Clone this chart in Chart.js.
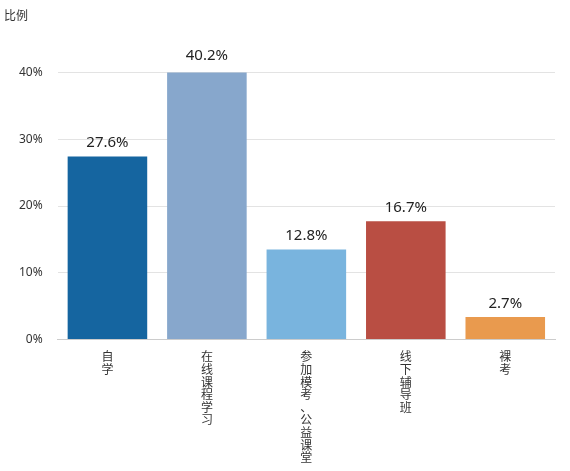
<!DOCTYPE html>
<html>
<head>
<meta charset="utf-8">
<script src="https://cdn.jsdelivr.net/npm/chart.js@4/dist/chart.umd.min.js"></script>
<style>
  html, body { margin: 0; padding: 0; background: #fff; }
  #wrap { width: 570px; height: 471px; position: relative; }
</style>
</head>
<body>
<div id="wrap"><canvas id="c"></canvas></div>
<script>
// =============================================================================
// DATA
// =============================================================================
const categories = ["自学", "在线课程学习", "参加模考、公益课堂", "线下辅导班", "裸考"];
const barValues = [27.4, 40.4, 13.5, 17.7, 3.4];
const valueLabels = ["27.6%", "40.2%", "12.8%", "16.7%", "2.7%"];
const barColors = ["#1565a0", "#87a7cc", "#79b4de", "#b94e43", "#e99a4e"];
const yTicks = [0, 10, 20, 30, 40];

// =============================================================================
// PLUGIN — labels above bars
// =============================================================================
const topLabels = {
  id: "topLabels",
  afterDatasetsDraw(chart) {
    const ctx = chart.ctx;
    const meta = chart.getDatasetMeta(0);
    ctx.save();
    ctx.font = "15px 'Noto Sans', sans-serif";
    ctx.fillStyle = "#222";
    ctx.textAlign = "center";
    ctx.textBaseline = "bottom";
    meta.data.forEach((bar, i) => {
      ctx.fillText(valueLabels[i], bar.x, bar.y - 6);
    });
    ctx.restore();
  }
};

new Chart(document.getElementById("c").getContext("2d"), {
  type: "bar",
  data: {
    labels: categories.map(s => s.split("")),
    datasets: [{
      data: barValues,
      backgroundColor: barColors,
      barPercentage: 0.8,
      categoryPercentage: 1
    }]
  },
  options: {
    responsive: true,
    maintainAspectRatio: false,
    animation: false,
    layout: { padding: { left: 4, right: 15, top: 8, bottom: 4 } },
    plugins: {
      legend: { display: false },
      tooltip: { enabled: false },
      title: {
        display: true,
        text: "比例",
        align: "start",
        color: "#333",
        font: { size: 12, family: "'Noto Sans CJK SC', sans-serif", weight: "normal" },
        padding: { top: 0, bottom: 50 }
      }
    },
    scales: {
      x: {
        grid: { display: false },
        border: { color: "#ccc" },
        ticks: {
          color: "#333",
          maxRotation: 0,
          autoSkip: false,
          font: { size: 12, family: "'Noto Sans CJK SC', sans-serif", lineHeight: 1.05 }
        }
      },
      y: {
        min: 0,
        max: 40,
        afterBuildTicks(axis) { axis.ticks = yTicks.map(v => ({ value: v })); },
        grid: { color: "#e3e3e3", drawTicks: false },
        border: { display: false },
        ticks: {
          color: "#333",
          padding: 15,
          font: { size: 12, family: "'Noto Sans', sans-serif" },
          callback: v => v + "%"
        }
      }
    }
  },
  plugins: [topLabels]
});
</script>
</body>
</html>
